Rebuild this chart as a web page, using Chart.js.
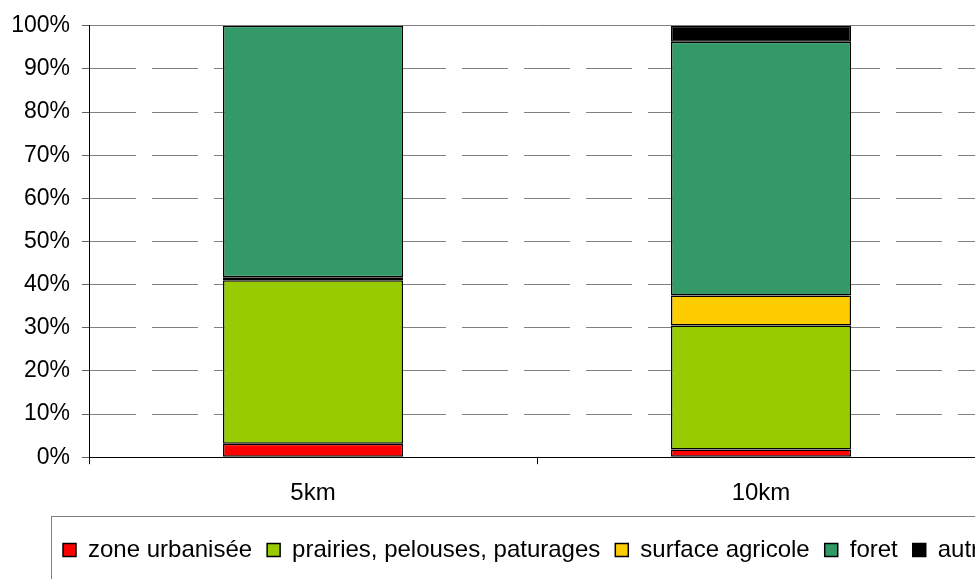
<!DOCTYPE html>
<html>
<head>
<meta charset="utf-8">
<script src="https://cdn.jsdelivr.net/npm/chart.js@4/dist/chart.umd.min.js"></script>
<style>
  html, body { margin: 0; padding: 0; background: #fff; overflow: hidden; }
  #wrap { position: relative; width: 1010px; height: 595px; }
</style>
</head>
<body>
<div id="wrap"><canvas id="landChart"></canvas></div>
<script>
// share of land cover (%) within each radius
const distances = ['5km', '10km'];
const zoneUrbanisee = [3.1, 1.8];
const prairies = [37.9, 28.7];
const surfaceAgricole = [0.7, 7.0];
const foret = [58.3, 58.8];
const autres = [0.0, 3.7];

const font = 'Liberation Sans, Arial, sans-serif';

// frame round the legend, like the excel one
let frameTop = 0;
const legendFrame = {
  id: 'legendFrame',
  afterLayout(chart) {
    const lg = chart.legend;
    frameTop = lg.top;
    lg.top += 7;
    lg.left = 48;
    lg.right = 3000;
  },
  afterDraw(chart) {
    const c = chart.ctx;
    c.save();
    c.strokeStyle = '#808080';
    c.lineWidth = 1;
    c.strokeRect(51.5, frameTop + 0.5, chart.width, 200);
    c.restore();
  }
};

function mkSet(label, data, color) {
  return {
    label: label,
    data: data,
    backgroundColor: color,
    borderColor: '#000',
    borderWidth: 1.5,
    borderSkipped: false,
    barPercentage: 0.402,
    categoryPercentage: 1
  };
}

const ctx = document.getElementById('landChart').getContext('2d');
const landChart = new Chart(ctx, {
  type: 'bar',
  data: {
    labels: distances,
    datasets: [
      mkSet('zone urbanisée', zoneUrbanisee, '#ff0000'),
      mkSet('prairies, pelouses, paturages', prairies, '#99cc00'),
      mkSet('surface agricole', surfaceAgricole, '#ffcc00'),
      mkSet('foret', foret, '#339966'),
      mkSet('autres', autres, '#000000')
    ]
  },
  options: {
    responsive: true,
    maintainAspectRatio: false,
    animation: false,
    layout: { padding: { top: 25, right: 25, left: 0, bottom: 30 } },
    scales: {
      x: {
        stacked: true,
        afterFit: (s) => { s.height -= 7; },
        grid: { drawOnChartArea: false, drawTicks: true, tickLength: 7, color: '#000' },
        border: { color: '#000', width: 1 },
        ticks: { color: '#000', font: { family: font, size: 24 }, padding: 15 }
      },
      y: {
        stacked: true,
        min: 0,
        max: 100,
        afterFit: (s) => { s.width = 89; },
        grid: { color: '#808080', tickLength: 7, tickColor: '#606060' },
        border: {
          color: '#000',
          width: 1,
          dash: (c) => (c.tick && c.tick.value === 100) ? [] : [46, 16]
        },
        ticks: {
          stepSize: 10,
          color: '#000',
          padding: 12,
          font: { family: font, size: 23 },
          callback: (v) => v + '%'
        }
      }
    },
    plugins: {
      tooltip: { enabled: false },
      legend: {
        position: 'bottom',
        align: 'start',
        labels: {
          color: '#000',
          font: { family: font, size: 24 },
          boxWidth: 13,
          boxHeight: 13,
          padding: 15
        }
      }
    }
  },
  plugins: [legendFrame]
});
</script>
</body>
</html>
